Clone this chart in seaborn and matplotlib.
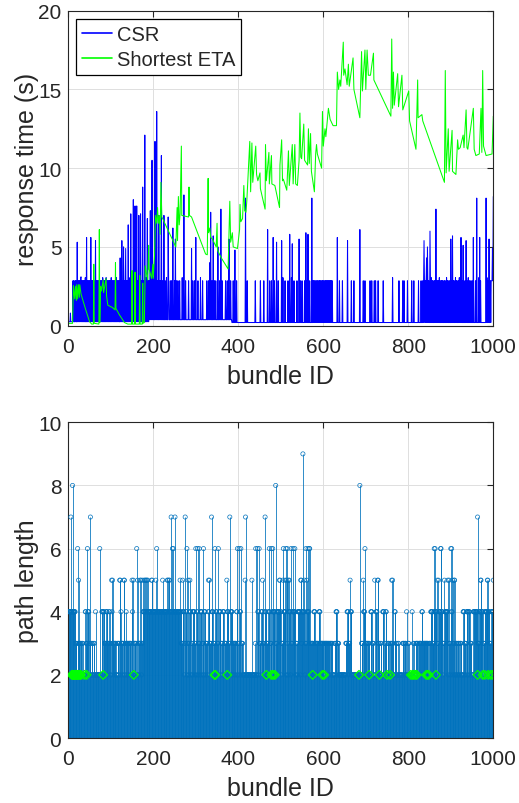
import numpy as np
import pandas as pd
import matplotlib
matplotlib.use("Agg")
import matplotlib.pyplot as plt
import seaborn as sns

# ---------------- data ----------------
bundle_ids = np.arange(1, 1001)

# CSR response time: baseline levels by segment, band spikes (~2.85 s) and tall peaks
csr_base_start = [1, 190, 385]
csr_base_level = [0.25, 0.38, 0.2]
csr_band_level = 2.85
csr_band_hi_level = 3.05
csr_band_ids = [11, 13, 16, 18, 23, 25, 27, 29, 32, 34, 36, 38, 40, 45, 47, 49, 51, 55, 57, 59, 61,
                66, 68, 70, 72, 75, 77, 79, 81, 83, 85, 87, 89, 91, 93, 95, 97, 99, 101, 103, 105, 107,
                109, 111, 113, 115, 117, 119, 124, 128, 132, 134, 137, 139, 143, 145, 150, 155, 159, 163,
                165, 168, 172, 177, 183, 185, 188, 190, 192, 195, 199, 201, 206, 210, 215, 217, 222, 228,
                231, 236, 240, 243, 250, 255, 258, 262, 268, 276, 283, 293, 297, 305, 311, 316, 326, 330,
                338, 344, 347, 356, 362, 370, 374, 382, 388, 396, 421, 440, 452, 460, 474, 478, 485, 494,
                505, 510, 517, 525, 531, 538, 546, 550, 556, 561, 568, 576, 578, 580, 581, 583, 584, 586,
                588, 589, 591, 593, 595, 596, 598, 600, 602, 603, 605, 607, 609, 611, 613, 615, 617, 619,
                621, 638, 645, 666, 672, 694, 698, 710, 714, 720, 723, 729, 741, 763, 778, 787, 790, 798,
                808, 813, 824, 830, 834, 836, 838, 840, 842, 846, 848, 852, 854, 856, 858, 861, 863, 867,
                869, 871, 873, 876, 878, 880, 882, 885, 887, 890, 892, 894, 897, 902, 906, 908, 911, 913,
                915, 918, 920, 922, 926, 933, 938, 941, 944, 947, 950, 958, 966, 970, 985, 988, 993, 995,
                996, 997, 999]
csr_band_hi_ids = [29, 40, 81, 89, 101, 113, 145, 183, 201, 231, 268, 311, 505, 525, 763, 854, 873, 890,
                   911, 920, 941, 966, 985]
csr_peak_ids = [5, 21, 30, 43, 53, 64, 122, 126, 130, 135, 141, 147, 153, 157, 161, 166, 170, 175, 180,
                186, 193, 197, 204, 208, 213, 219, 225, 235, 246, 252, 272, 290, 300, 333, 335, 341, 352,
                359, 378, 392, 417, 469, 482, 490, 502, 521, 527, 543, 559, 564, 573, 633, 657, 686, 837,
                843, 845, 851, 865, 900, 904, 924, 929, 936, 953, 961, 968, 983, 990, 998, 1000]
csr_peak_vals = [0.8, 5.3, 3.1, 5.6, 5.6, 5.4, 4.3, 5.4, 5.0, 4.9, 6.4, 7.1, 8.0, 7.6, 7.6, 7.0, 7.1, 8.8,
                 12.1, 6.8, 7.3, 10.5, 11.7, 13.6, 7.0, 10.8, 7.0, 6.9, 6.2, 5.5, 8.3, 4.9, 5.6, 4.0, 7.2,
                 5.7, 5.0, 7.4, 5.5, 4.8, 8.1, 6.1, 5.6, 5.3, 5.4, 5.8, 5.2, 5.5, 5.9, 5.8, 8.1, 5.6, 5.4,
                 6.1, 5.4, 4.3, 5.0, 6.0, 7.4, 5.5, 5.7, 5.6, 5.1, 5.4, 5.6, 8.1, 5.6, 8.1, 5.5, 4.9, 8.2]

# Shortest ETA response time: polyline vertices (bundle ID, seconds)
eta_ids = [1, 10, 12, 15, 17, 19, 20, 22, 24, 26, 27, 30, 40, 50, 55, 59, 60, 61, 72, 73, 74, 76, 78, 82,
           83, 89, 90, 93, 104, 110, 111, 112, 120, 132, 140, 149, 150, 151, 156, 157, 158, 167, 168, 169,
           174, 175, 176, 179, 181, 184, 187, 189, 190, 196, 199, 200, 203, 205, 208, 210, 212, 214, 216,
           218, 220, 222, 253, 256, 257, 259, 261, 263, 266, 267, 283, 284, 285, 290, 323, 327, 329, 330,
           333, 335, 339, 348, 350, 351, 360, 376, 380, 382, 386, 388, 398, 403, 404, 406, 410, 413, 415,
           418, 420, 427, 429, 432, 434, 441, 443, 446, 451, 452, 463, 464, 466, 472, 473, 478, 479, 486,
           497, 498, 502, 504, 506, 514, 518, 520, 527, 529, 533, 535, 539, 543, 545, 547, 549, 554, 556,
           563, 565, 567, 570, 572, 579, 582, 584, 586, 596, 598, 600, 604, 606, 612, 616, 623, 631, 633,
           636, 639, 641, 647, 648, 651, 656, 659, 661, 670, 672, 686, 690, 692, 698, 700, 703, 706, 711,
           718, 719, 759, 761, 763, 765, 767, 775, 777, 785, 787, 801, 803, 818, 822, 823, 832, 834, 885,
           887, 889, 894, 896, 903, 904, 912, 916, 918, 922, 929, 931, 936, 938, 940, 953, 955, 959, 967,
           971, 973, 975, 977, 983, 997, 1000]
eta_vals = [0.15, 0.15, 2.55, 1.7, 2.5, 1.6, 2.6, 1.7, 2.6, 1.8, 2.6, 2.0, 1.1, 0.25, 0.1, 0.1, 3.9, 0.15,
            0.1, 6.1, 0.2, 2.5, 2.2, 2.9, 2.1, 3.0, 1.9, 1.3, 1.15, 1.0, 4.0, 1.1, 0.7, 0.2, 0.1, 0.1, 3.5,
            0.1, 0.1, 3.4, 0.1, 0.1, 3.2, 0.1, 0.1, 2.7, 0.15, 0.2, 3.8, 3.3, 2.9, 5.1, 3.6, 3.0, 3.9, 3.0,
            4.5, 7.0, 6.5, 7.5, 6.5, 7.0, 5.8, 9.1, 6.9, 6.8, 5.0, 7.5, 5.4, 8.2, 6.4, 7.1, 11.4, 7.0, 6.9,
            8.8, 7.0, 6.9, 4.55, 4.5, 9.35, 5.9, 6.2, 5.6, 5.5, 5.0, 6.5, 4.8, 4.3, 3.6, 7.9, 5.3, 5.9, 5.0,
            4.9, 6.1, 7.7, 6.6, 6.8, 8.9, 7.3, 7.2, 7.9, 11.7, 8.5, 11.6, 9.1, 11.4, 9.6, 9.2, 9.7, 8.7,
            7.4, 11.5, 9.2, 11.0, 9.0, 10.8, 9.0, 8.9, 7.5, 10.2, 11.8, 9.2, 9.3, 8.6, 11.1, 8.9, 11.5, 9.0,
            11.5, 9.0, 8.9, 10.5, 13.5, 10.7, 10.6, 12.8, 10.5, 10.2, 12.5, 10.3, 12.2, 9.8, 8.5, 10.9,
            11.5, 10.9, 10.0, 13.6, 11.4, 12.5, 12.0, 13.8, 13.1, 12.7, 12.7, 16.1, 15.0, 15.6, 15.2, 18.0,
            15.9, 16.3, 15.3, 16.6, 15.2, 17.0, 15.0, 13.2, 17.4, 14.9, 17.5, 15.0, 17.5, 15.9, 15.9, 17.3,
            15.6, 13.3, 18.2, 13.8, 16.1, 14.0, 16.0, 13.9, 15.9, 13.7, 14.9, 13.0, 11.2, 15.6, 13.2, 13.4,
            13.0, 9.1, 16.2, 9.7, 12.5, 9.8, 12.4, 9.8, 9.6, 11.8, 11.2, 11.3, 12.1, 11.3, 13.7, 11.3, 11.2,
            13.8, 11.2, 10.8, 10.9, 13.8, 11.0, 16.2, 11.4, 10.8, 10.9, 13.3]

# CSR path length: default level, runs (start, end, value), then individual tall stems
path_default = 2
path_run_start = [1, 7, 11, 17, 23, 29, 33, 40, 42, 46, 50, 55, 60, 64, 79, 83, 85, 89, 92, 96, 99, 103, 105,
                  110, 116, 120, 124, 125, 130, 134, 136, 138, 143, 151, 155, 160, 163, 166, 173, 175, 266,
                  270, 274, 277, 281, 285, 290, 293, 298, 302, 306, 311, 316, 320, 324, 329, 333, 338, 342,
                  347, 351, 355, 360, 364, 368, 373, 378, 382, 387, 392, 396, 400, 404, 408, 440, 445, 449,
                  454, 458, 462, 467, 471, 476, 480, 488, 491, 502, 505, 514, 518, 524, 527, 536, 540, 547,
                  550, 558, 561, 568, 572, 578, 581, 590, 593, 602, 612, 616, 620, 627, 630, 634, 653, 656,
                  660, 664, 690, 695, 700, 704, 707, 712, 716, 724, 730, 735, 740, 745, 747, 752, 758, 762,
                  768, 771, 776, 787, 792, 796, 800, 809, 812, 818, 825, 832, 834, 849, 853, 857, 860, 868,
                  872, 882, 886, 895, 900, 906, 912, 917, 922, 929, 933, 937, 942, 946, 953, 958, 964, 967,
                  977, 980, 992, 995]
path_run_end = [5, 9, 16, 19, 27, 30, 34, 41, 44, 48, 51, 56, 61, 64, 81, 84, 88, 91, 95, 97, 100, 103, 108,
                112, 118, 121, 124, 128, 132, 135, 136, 141, 147, 151, 158, 160, 163, 171, 174, 265, 268,
                272, 276, 279, 283, 288, 291, 296, 300, 304, 309, 314, 318, 322, 327, 331, 336, 340, 345,
                349, 353, 358, 362, 366, 371, 376, 380, 385, 390, 394, 398, 402, 406, 410, 441, 447, 452,
                456, 460, 465, 469, 474, 478, 486, 490, 500, 504, 512, 516, 522, 526, 534, 538, 545, 549,
                556, 560, 566, 570, 576, 580, 588, 592, 600, 610, 614, 618, 621, 629, 632, 636, 655, 658,
                662, 666, 692, 697, 702, 705, 708, 714, 718, 726, 731, 736, 742, 746, 748, 754, 760, 764,
                769, 772, 777, 789, 794, 796, 801, 809, 813, 822, 830, 833, 846, 851, 856, 859, 866, 870,
                880, 884, 893, 898, 904, 908, 914, 919, 924, 931, 935, 940, 944, 948, 956, 962, 966, 975,
                979, 990, 994, 999]
path_run_val = [4, 4, 4, 3, 3, 3, 3, 4, 3, 4, 3, 3, 3, 4, 4, 4, 3, 4, 3, 4, 3, 4, 3,
                3, 3, 3, 4, 3, 3, 3, 4, 3, 3, 4, 3, 3, 4, 3, 3, 4, 3,
                4, 3, 4, 3, 4, 3, 4, 3, 4, 3, 4, 3, 4, 3, 4, 3, 4, 3,
                4, 3, 4, 3, 4, 3, 4, 3, 4, 3, 3, 4, 3, 4, 3, 3, 4, 3,
                4, 3, 4, 3, 4, 3, 4, 3, 4, 3, 4, 3, 4, 3, 4, 3, 4, 3,
                4, 3, 4, 3, 3, 4, 3, 4, 3, 3, 3, 3, 3, 3, 4, 3, 3, 4,
                3, 4, 3, 4, 3, 3, 3, 4, 3, 4, 3, 3, 4, 3, 4, 3, 3, 3,
                4, 3, 3, 3, 3, 4, 3, 4, 3, 3, 3, 4, 3, 3, 4, 3, 4, 3,
                4, 3, 4, 3, 4, 3, 3, 3, 3, 4, 3, 4, 4, 3, 4, 4, 3, 4,
                3, 4, 3, 4]
path5_ids = [24, 102, 104, 121, 122, 131, 132, 150, 153, 163, 169, 171, 175, 179, 181, 183, 185, 187, 196,
             197, 206, 222, 233, 234, 237, 238, 263, 269, 282, 286, 330, 332, 373, 416, 432, 457, 481, 497,
             498, 505, 510, 514, 518, 520, 533, 547, 548, 555, 559, 561, 663, 694, 721, 728, 729, 761, 763,
             868, 871, 885, 893, 896, 904, 908, 909, 970, 971, 986, 987, 1000]
path6_ids = [22, 45, 74, 161, 208, 245, 247, 279, 300, 304, 308, 318, 345, 353, 398, 402, 406, 441, 445, 449,
             473, 478, 481, 506, 512, 515, 524, 529, 533, 559, 564, 567, 568, 698, 861, 863, 876, 877, 900,
             902]
path7_ids = [6, 52, 242, 251, 275, 337, 380, 417, 463, 963]
path8_ids = [10, 488, 686]
path9_ids = [552]

# Shortest ETA path length markers (all at 2)
eta_path_ids = [8, 10, 11, 12, 13, 14, 15, 16, 17, 18, 20, 21, 22, 24, 26, 28, 30, 38, 43, 82, 154, 344, 346,
                374, 466, 478, 482, 486, 575, 598, 602, 684, 708, 732, 750, 757, 806, 810, 813, 817, 820,
                842, 845, 848, 865, 963, 975, 980, 988, 994, 999]
eta_path_val = 2

# ---------------- build series ----------------
csr = np.empty(len(bundle_ids))
for k, s in enumerate(csr_base_start):
    csr[bundle_ids >= s] = csr_base_level[k]
for i in csr_band_ids:
    csr[i - 1] = csr_band_level
for i in csr_band_hi_ids:
    csr[i - 1] = csr_band_hi_level
for i, v in zip(csr_peak_ids, csr_peak_vals):
    csr[i - 1] = v

path = np.full(len(bundle_ids), float(path_default))
for s, e, v in zip(path_run_start, path_run_end, path_run_val):
    path[s - 1:e] = v
for lst, v in [(path5_ids, 5), (path6_ids, 6), (path7_ids, 7), (path8_ids, 8), (path9_ids, 9)]:
    for i in lst:
        path[i - 1] = v

df_csr = pd.DataFrame({"bundle": bundle_ids, "t": csr})
df_eta = pd.DataFrame({"bundle": eta_ids, "t": eta_vals})
df_path = pd.DataFrame({"bundle": bundle_ids, "len": path})
df_eta_path = pd.DataFrame({"bundle": eta_path_ids, "len": [eta_path_val] * len(eta_path_ids)})

# ---------------- style ----------------
sns.set_style("white")
plt.rcParams["font.family"] = ["Liberation Sans", "DejaVu Sans"]
axis_col = "#262626"
plt.rcParams.update({
    "axes.edgecolor": axis_col,
    "axes.linewidth": 0.8,
    "xtick.color": axis_col,
    "ytick.color": axis_col,
    "text.color": axis_col,
    "axes.labelcolor": axis_col,
})

fig = plt.figure(figsize=(5.19, 8.04), dpi=100)
ax1 = fig.add_axes([0.1316, 0.5937, 0.8189, 0.3918])
ax2 = fig.add_axes([0.1316, 0.0808, 0.8189, 0.3927])


def style_axes(ax):
    ax.set_xlim(0, 1000)
    ax.set_xticks([0, 200, 400, 600, 800, 1000])
    ax.grid(True, color="#dedede", linewidth=0.7)
    ax.set_axisbelow(True)
    ax.tick_params(direction="in", length=4.5, width=0.8, top=True, right=True,
                   labelsize=15, pad=5)
    ax.tick_params(axis="x", pad=8)
    for sp in ax.spines.values():
        sp.set_visible(True)
        sp.set_color(axis_col)
        sp.set_linewidth(0.8)
    ax.set_xlabel("bundle ID", fontsize=18, labelpad=6)


# top: response time
sns.lineplot(data=df_csr, x="bundle", y="t", ax=ax1, color="#0000ff", linewidth=0.75,
             estimator=None, sort=False, label="CSR")
sns.lineplot(data=df_eta, x="bundle", y="t", ax=ax1, color="#00ff00", linewidth=0.75,
             estimator=None, sort=False, label="Shortest ETA")
style_axes(ax1)
ax1.set_ylim(0, 20)
ax1.set_yticks([0, 5, 10, 15, 20])
ax1.set_ylabel("response time (s)", fontsize=18, labelpad=-1)
leg = ax1.legend(loc="upper left", fontsize=14.5, frameon=True, fancybox=False, framealpha=1,
                 edgecolor="#000000", borderpad=0.3, labelspacing=0.3, handlelength=1.45,
                 handletextpad=0.25, borderaxespad=0.4)
leg.get_frame().set_linewidth(0.9)
for ln in leg.get_lines():
    ln.set_linewidth(1.2)

# bottom: path length stem plot
stem_col = "#0072BD"
ax2.vlines(df_path["bundle"], 0, df_path["len"], color=stem_col, linewidth=0.6, alpha=0.95)
sns.scatterplot(data=df_path, x="bundle", y="len", ax=ax2, marker="o", s=9,
                facecolor="none", edgecolor=stem_col, linewidth=0.5, zorder=3)
sns.scatterplot(data=df_eta_path, x="bundle", y="len", ax=ax2, marker="D", s=20,
                facecolor="none", edgecolor="#00ff00", linewidth=0.9, zorder=4)
style_axes(ax2)
ax2.set_ylim(0, 10)
ax2.set_yticks([0, 2, 4, 6, 8, 10])
ax2.set_ylabel("path length", fontsize=18, labelpad=-1)

fig.savefig("out.png", dpi=100)
